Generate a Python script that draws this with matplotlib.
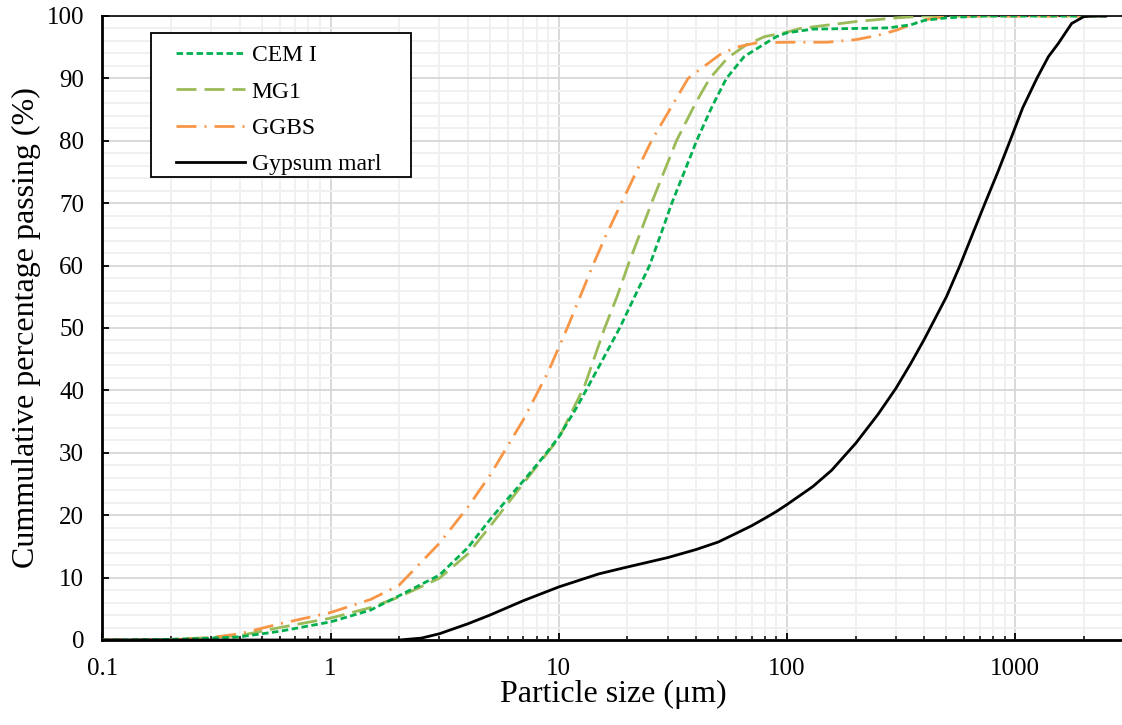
import matplotlib
matplotlib.use("Agg")
import matplotlib.pyplot as plt
from matplotlib.patches import Rectangle
from matplotlib.ticker import LogLocator, MultipleLocator, FixedLocator, NullFormatter

plt.rcParams["font.family"] = ["Liberation Serif", "DejaVu Serif"]

# particle size (um) and cumulative % passing
cem_x = [0.1, 0.2, 0.3, 0.4, 0.6, 1, 1.5, 2, 3, 4, 5, 6, 7, 8.5, 10, 12, 15,
         18.5, 21.5, 25, 28, 31.3, 35.5, 40.2, 47, 54.3, 65, 78.7, 90, 100,
         130, 200, 280, 350, 400, 500, 700, 1000, 2500]
cem_y = [0, 0.1, 0.3, 0.5, 1.4, 2.9, 4.8, 7.1, 10.4, 14.8, 19.3, 22.7, 25.5,
         29.2, 32.5, 37.3, 43.8, 50, 55, 60, 65, 70, 75, 80, 85.5, 90, 93.5,
         95.4, 96.7, 97.3, 97.9, 98.0, 98.1, 98.6, 99.3, 99.7, 100, 100, 100]

mg1_x = [0.1, 0.2, 0.3, 0.4, 0.6, 1, 1.5, 2, 3, 4, 5, 7, 10, 13, 15.9, 18,
         20.1, 25.5, 32.8, 40, 45.9, 55, 66.5, 80, 100, 114, 200, 300, 400,
         2500]
mg1_y = [0, 0.1, 0.4, 0.7, 2.0, 3.5, 5.2, 6.9, 9.9, 13.8, 18.2, 25.1, 32.3,
         40.8, 50, 55, 60, 70, 80, 86.2, 90, 93.3, 95.4, 96.7, 97.4, 98.0,
         99.1, 99.7, 100, 100]

ggbs_x = [0.1, 0.2, 0.25, 0.3, 0.4, 0.6, 1, 1.5, 2, 3, 4, 5, 7, 9, 10.9, 12.5,
          14.1, 16, 18.8, 22, 25.5, 30, 36.9, 41.5, 50.8, 60, 73.6, 100, 150,
          200, 250, 300, 400, 500, 700, 2500]
ggbs_y = [0, 0.05, 0.2, 0.4, 1.0, 2.6, 4.4, 6.5, 8.8, 15.5, 21.3, 26.4, 35.3,
          43, 50, 55.3, 60, 64.6, 70, 75.2, 80, 84.4, 90, 91.4, 93.8, 95.0,
          95.7, 95.8, 95.8, 96.2, 96.9, 97.7, 99.4, 99.9, 100, 100]

marl_x = [0.1, 1, 2, 2.5, 3, 4, 5, 7, 10, 15, 20, 30, 40, 50, 60, 70, 80, 90,
          100, 130, 157, 200, 250, 300, 350, 400, 500, 573, 650, 738, 840,
          950, 1080, 1245, 1400, 1546, 1769, 2000, 2200, 2500]
marl_y = [0, 0, 0, 0.3, 1.0, 2.6, 4.0, 6.3, 8.5, 10.6, 11.7, 13.2, 14.5, 15.7,
          17.1, 18.3, 19.5, 20.6, 21.7, 24.6, 27.2, 31.5, 36.1, 40.3, 44.4,
          48.2, 55, 60, 65, 70, 75, 80, 85.3, 90, 93.5, 95.6, 98.8, 99.9, 100,
          100]

fig = plt.figure(figsize=(11.22, 7.25), dpi=100)
ax = fig.add_axes([102.3 / 1122, 85 / 725, (1124 - 102.3) / 1122, 624 / 725])

ax.plot(cem_x, cem_y, color="#00b050", lw=2, ls=(0, (2.35, 1.25)),
        label="CEM I", zorder=4)
ax.plot(mg1_x, mg1_y, color="#9bbb59", lw=2, ls=(0, (7.2, 2.9)),
        label="MG1", zorder=3)
ax.plot(ggbs_x, ggbs_y, color="#f79646", lw=2,
        ls=(0, (7.2, 2.9, 0.7, 2.9)), label="GGBS", zorder=3)
ax.plot(marl_x, marl_y, color="black", lw=2, label="Gypsum marl", zorder=5)

ax.set_xscale("log")
ax.set_xlim(0.1, 3000)
ax.set_ylim(0, 100)

ax.xaxis.set_major_locator(FixedLocator([0.1, 1, 10, 100, 1000]))
ax.set_xticklabels(["0.1", "1", "10", "100", "1000"])
ax.xaxis.set_minor_locator(LogLocator(base=10, subs=range(2, 10), numticks=20))
ax.xaxis.set_minor_formatter(NullFormatter())
ax.yaxis.set_major_locator(MultipleLocator(10))
ax.yaxis.set_minor_locator(MultipleLocator(2))

ax.grid(which="major", color="#d9d9d9", lw=1.4, zorder=0)
ax.grid(which="minor", color="#f0f0f0", lw=1.4, zorder=0)
ax.set_axisbelow(True)

ax.tick_params(axis="x", which="major", direction="in", length=5, width=1.3,
               pad=13, labelsize=18)
ax.tick_params(axis="x", which="minor", direction="in", length=3.2, width=1.1)
ax.tick_params(axis="y", which="major", direction="in", length=5, width=1.3,
               pad=13, labelsize=18)
ax.tick_params(axis="y", which="minor", length=0)

for side in ("left", "bottom"):
    ax.spines[side].set_linewidth(2)
ax.spines["top"].set_linewidth(1.2)
ax.spines["right"].set_visible(False)

ax.set_xlabel("Particle size (\u03bcm)", fontsize=23, labelpad=0)
ax.set_ylabel("Cummulative percentage passing (%)", fontsize=23, labelpad=4)

# legend box drawn separately so the padding matches the original
ax.add_patch(Rectangle((0.0477, 0.742), 0.2544, 0.2308, transform=ax.transAxes,
                       facecolor="white", edgecolor="black", lw=1.3,
                       zorder=6))
leg = ax.legend(loc="upper left", bbox_to_anchor=(0.0721, 0.954),
                borderaxespad=0, borderpad=0, fontsize=17, handlelength=2.92,
                handletextpad=0.28, labelspacing=0.63, frameon=False)
leg.set_zorder(7)

fig.savefig("out.png", dpi=100)
